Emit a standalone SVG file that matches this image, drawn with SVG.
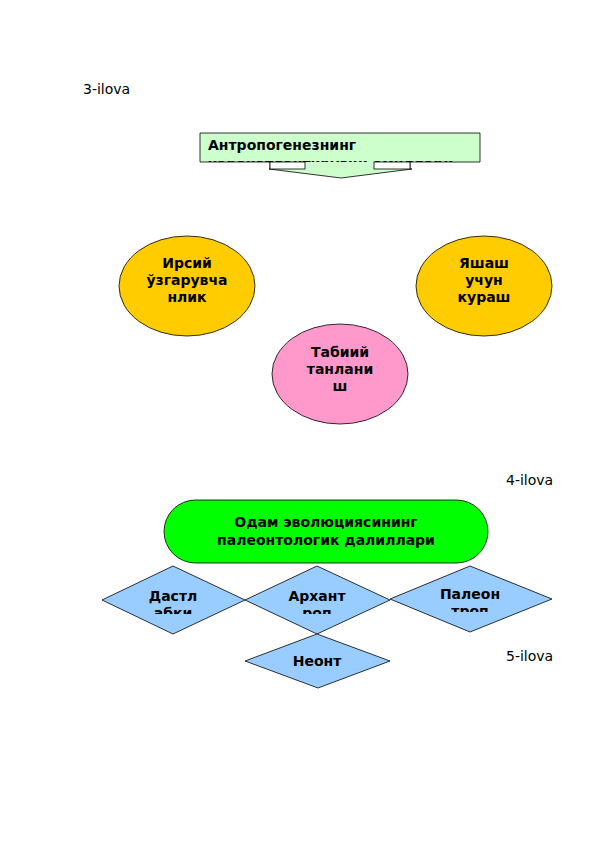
<svg xmlns="http://www.w3.org/2000/svg" width="596" height="842" viewBox="0 0 596 842">
<style>
.t{font-family:"DejaVu Sans","Noto Sans",sans-serif;font-size:14px;font-weight:bold;fill:#000;text-anchor:middle}
.l{font-family:"DejaVu Sans","Noto Sans",sans-serif;font-size:14px;fill:#000}
.s{stroke:#000;stroke-width:0.8}
</style>
<defs>
<clipPath id="cTop"><rect x="200" y="133" width="280" height="29"/></clipPath>
<clipPath id="cD1"><rect x="100" y="560" width="150" height="54"/></clipPath>
<clipPath id="cD2"><rect x="244" y="560" width="150" height="54"/></clipPath>
<clipPath id="cD3"><rect x="388" y="560" width="165" height="52"/></clipPath>
</defs>
<rect width="596" height="842" fill="#fff"/>
<text class="l" x="83" y="94">3-ilova</text>
<text class="l" x="506" y="485">4-ilova</text>
<text class="l" x="506" y="661">5-ilova</text>

<g id="node-antropogenez">
<path class="s" fill="#ccffcc" d="M200,133 H480 V162 H410 V169 H412 L341,178 L269,169 H270 V162 H200 Z"/>
<rect class="s" x="270" y="162" width="35" height="7" fill="#fff"/>
<rect class="s" x="374" y="162" width="36" height="7" fill="#fff"/>
<g clip-path="url(#cTop)">
<text class="t" x="208" y="150" style="text-anchor:start">Антропогенезнинг</text>
<text class="t" x="208" y="169" style="text-anchor:start">харакатлантирувчи омиллари</text>
</g>
</g>

<g id="node-irsiy">
<ellipse class="s" cx="187" cy="286" rx="68" ry="50" fill="#ffcc00"/>
<text class="t" x="187" y="268">Ирсий</text>
<text class="t" x="187" y="285">ўзгарувча</text>
<text class="t" x="187" y="302">нлик</text>
</g>

<g id="node-yashash">
<ellipse class="s" cx="484" cy="286" rx="68" ry="50" fill="#ffcc00"/>
<text class="t" x="484" y="268">Яшаш</text>
<text class="t" x="484" y="285">учун</text>
<text class="t" x="484" y="302">кураш</text>
</g>

<g id="node-tabiiy">
<ellipse class="s" cx="340" cy="374" rx="68" ry="50" fill="#ff99cc"/>
<text class="t" x="340" y="357">Табиий</text>
<text class="t" x="340" y="374">танлани</text>
<text class="t" x="340" y="391">ш</text>
</g>

<g id="node-odam">
<rect class="s" x="164" y="500" width="324" height="63" rx="31.5" fill="#00ff00"/>
<text class="t" x="326" y="527">Одам эволюциясининг</text>
<text class="t" x="326" y="545">палеонтологик далиллари</text>
</g>

<g id="node-dastlabki">
<polygon class="s" points="102,600 173,566 245,600 173,634" fill="#99ccff"/>
<g clip-path="url(#cD1)">
<text class="t" x="173" y="601">Дастл</text>
<text class="t" x="173" y="618">абки</text>
</g>
</g>

<g id="node-arxantrop">
<polygon class="s" points="245,600 317,566 390,600 317,634" fill="#99ccff"/>
<g clip-path="url(#cD2)">
<text class="t" x="317" y="601">Архант</text>
<text class="t" x="317" y="618">роп</text>
</g>
</g>

<g id="node-paleontrop">
<polygon class="s" points="390,599 470,566 552,599 470,632" fill="#99ccff"/>
<g clip-path="url(#cD3)">
<text class="t" x="470" y="599">Палеон</text>
<text class="t" x="470" y="616">троп</text>
</g>
</g>

<g id="node-neont">
<polygon class="s" points="245,661 317,634 390,661 318,688" fill="#99ccff"/>
<text class="t" x="317" y="666">Неонт</text>
</g>

<g id="connectors"></g>
</svg>
